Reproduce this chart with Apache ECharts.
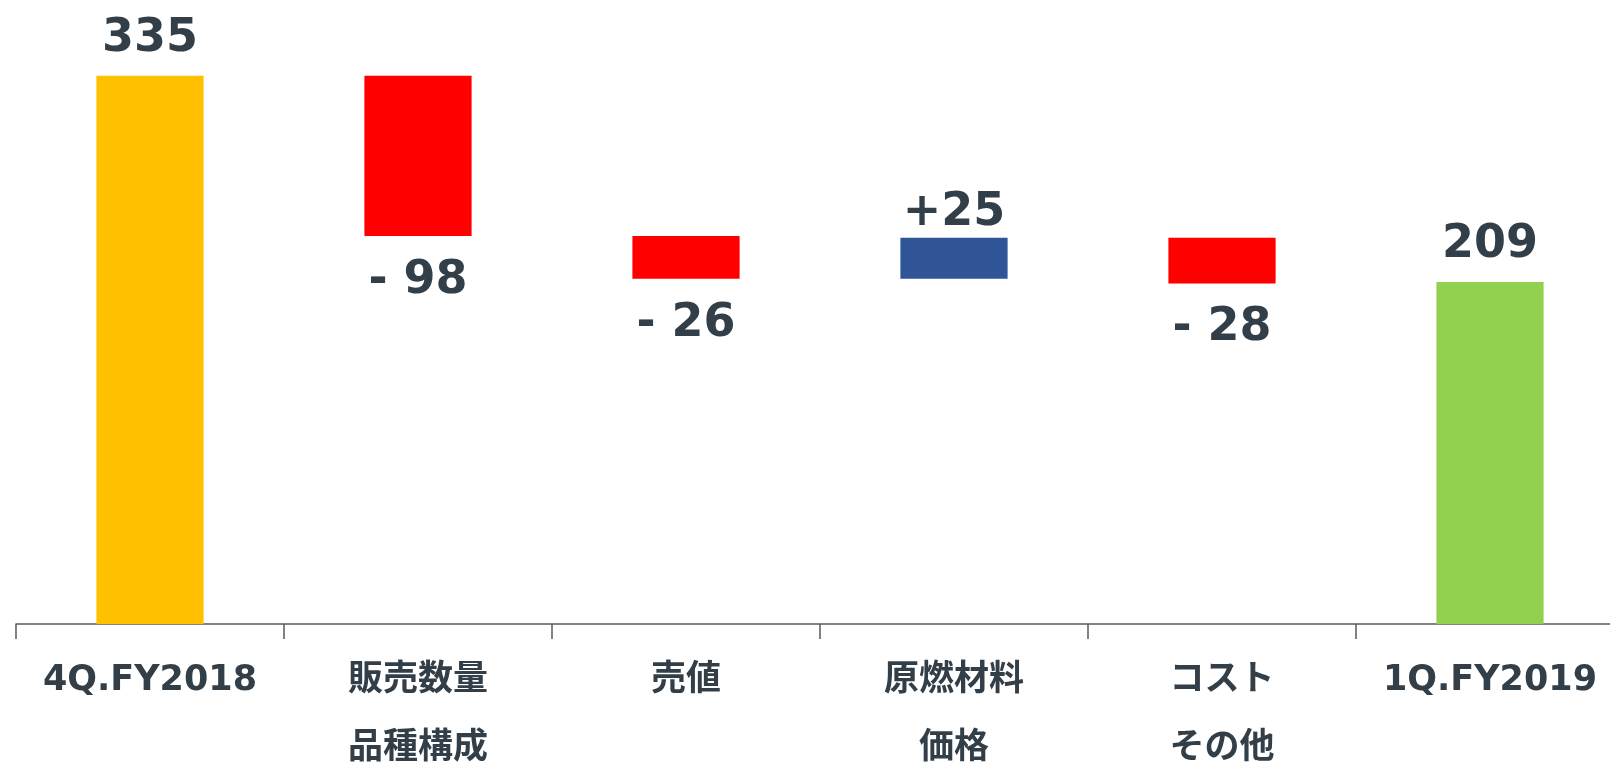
<!DOCTYPE html>
<html>
<head>
<meta charset="utf-8">
<script src="https://cdn.jsdelivr.net/npm/echarts@6/dist/echarts.min.js"></script>
<style>
html,body{margin:0;padding:0;background:#fff;overflow:hidden;}
#chart{width:1610px;height:763px;}
</style>
</head>
<body>
<div id="chart"></div>
<script>
// ---- data ----
var categories = ['4Q.FY2018', '販売数量\n品種構成', '売値', '原燃材料\n価格', 'コスト\nその他', '1Q.FY2019'];
var startTotal = 335;
var deltas = [-98, -26, 25, -28];   // steps between the two totals
var endTotal = 209;

// ---- build waterfall series from the data ----
var baseData = [], totalData = [], incData = [], decData = [];
var run = startTotal;
totalData.push(startTotal); baseData.push(0); incData.push('-'); decData.push('-');
deltas.forEach(function (d) {
  totalData.push('-');
  if (d >= 0) {
    baseData.push(run);
    incData.push(d);
    decData.push('-');
    run += d;
  } else {
    run += d;
    baseData.push(run);
    incData.push('-');
    decData.push(-d);
  }
});
totalData.push(endTotal); baseData.push(0); incData.push('-'); decData.push('-');

var textColor = '#333F48';
var valueFont = { fontFamily: 'DejaVu Sans', fontWeight: 'bold', fontSize: 46, color: textColor };

var chart = echarts.init(document.getElementById('chart'), null, { renderer: 'canvas' });
chart.setOption({
  animation: false,
  grid: { left: 16, right: -14, top: 2, bottom: 139, containLabel: false, outerBoundsMode: 'none' },
  xAxis: {
    type: 'category',
    data: categories,
    axisLine: { lineStyle: { color: '#595959', width: 1.5 } },
    axisTick: { show: true, length: 15, lineStyle: { color: '#595959', width: 1.5 } },
    axisLabel: {
      interval: 0,
      margin: 23,
      fontFamily: 'DejaVu Sans, "Noto Sans CJK JP"',
      fontWeight: 'bold',
      fontSize: 35,
      lineHeight: 68,
      color: textColor
    }
  },
  yAxis: { type: 'value', min: 0, max: 380, show: false, splitLine: { show: false } },
  series: [
    {
      name: 'base', type: 'bar', stack: 'w', barWidth: '40%',
      itemStyle: { color: 'transparent' },
      data: baseData, silent: true
    },
    {
      name: 'total', type: 'bar', stack: 'w', barWidth: '40%',
      itemStyle: {
        color: function (p) { return p.dataIndex === 0 ? '#FFC000' : '#92D050'; }
      },
      label: Object.assign({ show: true, position: 'top', distance: 14,
        formatter: function (p) { return String(p.value); } }, valueFont),
      data: totalData
    },
    {
      name: 'increase', type: 'bar', stack: 'w', barWidth: '40%',
      itemStyle: { color: '#2F5597' },
      label: Object.assign({ show: true, position: 'top', distance: 2,
        formatter: function (p) { return '+' + p.value; } }, valueFont),
      data: incData
    },
    {
      name: 'decrease', type: 'bar', stack: 'w', barWidth: '40%',
      itemStyle: { color: '#FF0000' },
      label: Object.assign({ show: true, position: 'bottom', distance: 22,
        formatter: function (p) { return '- ' + p.value; } }, valueFont),
      data: decData
    }
  ]
});
</script>
</body>
</html>
